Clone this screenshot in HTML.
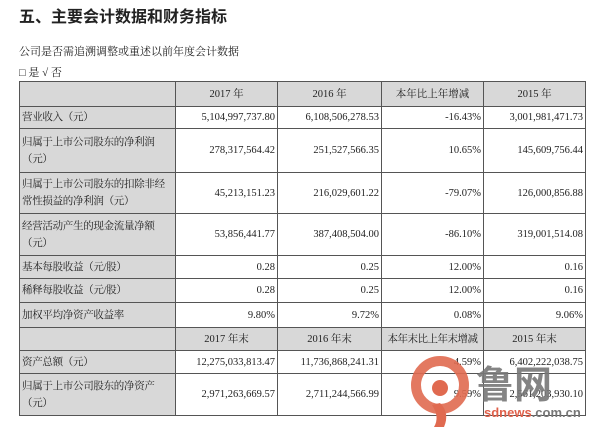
<!DOCTYPE html>
<html><head><meta charset="utf-8"><style>
body{margin:0;width:600px;height:427px;background:#fff;position:relative;overflow:hidden;font-family:"Liberation Serif","Noto Serif CJK SC",serif;color:#222}
.t{position:absolute;white-space:nowrap}
table{position:absolute;left:19px;top:81px;border-collapse:collapse;table-layout:fixed;font-size:10.5px}
td{border:1px solid #555;padding:0 2px;text-align:right;line-height:17px;vertical-align:middle;white-space:nowrap;overflow:hidden}
td.l{background:#d8d8d8;text-align:left;letter-spacing:-0.3px}
tr.h td{background:#d8d8d8;text-align:center}
</style></head><body>
<div class="t" style="left:19px;top:3px;font-size:16px;font-weight:bold;font-family:'Noto Sans CJK SC',sans-serif">五、主要会计数据和财务指标</div>
<div class="t" style="left:19px;top:43px;font-size:11px">公司是否需追溯调整或重述以前年度会计数据</div>
<div class="t" style="left:19px;top:64px;font-size:11px">□ 是 √ 否</div>
<table>
<colgroup><col style="width:156px"><col style="width:102px"><col style="width:104px"><col style="width:102px"><col style="width:102px"></colgroup>
<tr class="h" style="height:25px"><td class="l"></td><td>2017 年</td><td>2016 年</td><td>本年比上年增减</td><td>2015 年</td></tr>
<tr style="height:22px"><td class="l">营业收入（元）</td><td>5,104,997,737.80</td><td>6,108,506,278.53</td><td>-16.43%</td><td>3,001,981,471.73</td></tr>
<tr style="height:44px"><td class="l">归属于上市公司股东的净利润<br>（元）</td><td>278,317,564.42</td><td>251,527,566.35</td><td>10.65%</td><td>145,609,756.44</td></tr>
<tr style="height:41px"><td class="l">归属于上市公司股东的扣除非经<br>常性损益的净利润（元）</td><td>45,213,151.23</td><td>216,029,601.22</td><td>-79.07%</td><td>126,000,856.88</td></tr>
<tr style="height:42px"><td class="l">经营活动产生的现金流量净额<br>（元）</td><td>53,856,441.77</td><td>387,408,504.00</td><td>-86.10%</td><td>319,001,514.08</td></tr>
<tr style="height:23px"><td class="l">基本每股收益（元/股）</td><td>0.28</td><td>0.25</td><td>12.00%</td><td>0.16</td></tr>
<tr style="height:24px"><td class="l">稀释每股收益（元/股）</td><td>0.28</td><td>0.25</td><td>12.00%</td><td>0.16</td></tr>
<tr style="height:25px"><td class="l">加权平均净资产收益率</td><td>9.80%</td><td>9.72%</td><td>0.08%</td><td>9.06%</td></tr>
<tr class="h" style="height:23px"><td class="l"></td><td>2017 年末</td><td>2016 年末</td><td style="letter-spacing:-0.5px">本年末比上年末增减</td><td>2015 年末</td></tr>
<tr style="height:23px"><td class="l">资产总额（元）</td><td>12,275,033,813.47</td><td>11,736,868,241.31</td><td>4.59%</td><td>6,402,222,038.75</td></tr>
<tr style="height:42px"><td class="l">归属于上市公司股东的净资产<br>（元）</td><td>2,971,263,669.57</td><td>2,711,244,566.99</td><td>9.59%</td><td>2,561,203,930.10</td></tr>
</table>
<svg style="position:absolute;left:410px;top:355px" width="60" height="72"><circle cx="30" cy="30" r="24" fill="none" stroke="#e06a50" stroke-width="10" opacity="0.9"/><circle cx="30" cy="33" r="8" fill="#e06a50"/><path d="M22 50 Q30 62 24 72 L34 72 Q40 58 30 48Z" fill="#e06a50"/></svg>
<div class="t" style="left:476px;top:360px;font-size:38px;font-weight:bold;color:#777;font-family:'Noto Sans CJK SC',sans-serif;opacity:0.9;line-height:44px">鲁网</div>
<div class="t" style="left:484px;top:405px;font-size:13px;font-weight:bold;font-family:'Liberation Sans',sans-serif;color:#e0604a">sdnews<span style="color:#777">.com.cn</span></div>
</body></html>
